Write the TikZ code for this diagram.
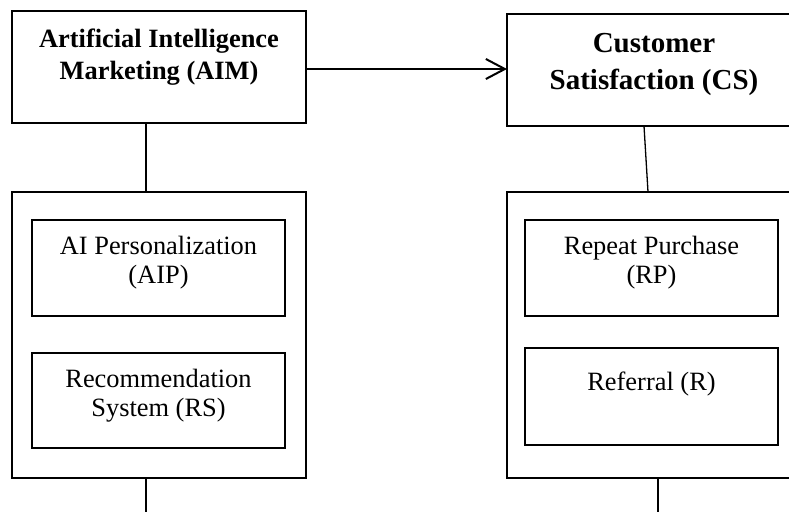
\documentclass[tikz,border=0pt]{standalone}
\usepackage{fontspec}
\setmainfont{Liberation Serif}
\usetikzlibrary{arrows.meta}
\begin{document}
\begin{tikzpicture}[x=1pt,y=-1pt,
  outerbox/.style={draw,line width=2.2pt,inner sep=0pt,outer sep=0pt,minimum width=294pt},
  innerbox/.style={draw,line width=2pt,inner sep=0pt,outer sep=0pt,minimum width=253pt},
  bigtxt/.style={align=center,inner sep=0pt,font=\fontsize{26.4}{32}\selectfont\bfseries},
  cstxt/.style={align=center,inner sep=0pt,font=\fontsize{29}{37}\selectfont\bfseries},
  smalltxt/.style={align=center,inner sep=0pt,font=\fontsize{26.4}{29}\selectfont},
  link/.style={line width=2pt}]
\useasboundingbox (0,0) rectangle (789,512);
\clip (0,0) rectangle (789,512);
% top boxes
\node[outerbox,minimum height=112pt] (aim) at (159,67) {};
\node[outerbox,minimum height=112pt] (cs) at (654,70) {};
\node[bigtxt] (aimt) at (159,57) {Artificial Intelligence\\Marketing (AIM)};
\node[cstxt] (cst) at (654,64) {Customer\\Satisfaction (CS)};
% group boxes
\node[outerbox,minimum height=286pt] (aimg) at (159,335) {};
\node[outerbox,minimum height=286pt] (csg) at (654,335) {};
% inner boxes
\node[innerbox,minimum height=96pt] (aip) at (158.5,268) {};
\node[innerbox,minimum height=95pt] (rs) at (158.5,400.5) {};
\node[innerbox,minimum height=96pt] (rp) at (651.5,267.5) {};
\node[innerbox,minimum height=97pt] (r) at (651.5,396.5) {};
\node[smalltxt] (aipt) at (158.5,263) {AI Personalization\\(AIP)};
\node[smalltxt] (rst) at (158.5,396) {Recommendation\\System (RS)};
\node[smalltxt] (rpt) at (651.5,263) {Repeat Purchase\\(RP)};
\node[smalltxt] (rt) at (651.5,384) {Referral (R)};
% connectors
\coordinate (endL) at (146,512);
\coordinate (endR) at (658,512);
\coordinate (arrowY) at (0,69);
\draw[link,-{Straight Barb[length=19pt,width=20pt]}] (aim.east |- arrowY) -- (cs.west |- arrowY);
\draw[link] ([xshift=-13pt]aim.south) -- ([xshift=-13pt]aimg.north);
\draw[line width=1.3pt] ([xshift=-10pt]cs.south) -- ([xshift=-6pt]csg.north);
\draw[link] (aimg.south -| endL) -- (endL);
\draw[link] (csg.south -| endR) -- (endR);
\end{tikzpicture}
\end{document}
